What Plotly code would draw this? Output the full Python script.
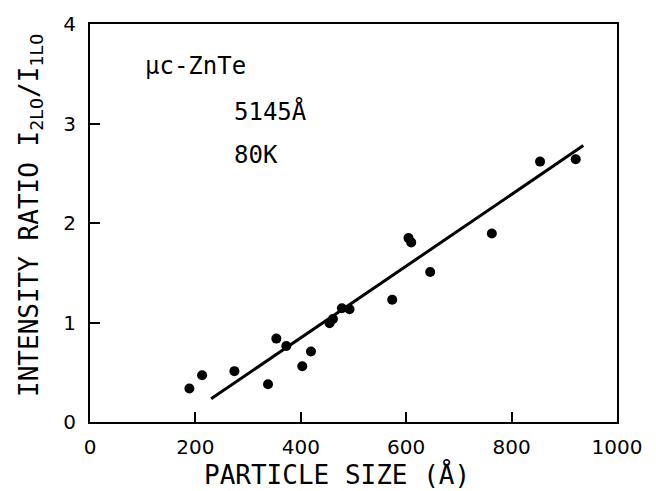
import plotly.graph_objects as go

# Data
particle_size = [188.6, 212.7, 274.0, 337.8, 353.6, 372.5, 402.8, 419.3, 454.6, 461.0,
                 478.0, 492.5, 573.5, 604.4, 609.5, 645.5, 762.5, 854.0, 921.7]
intensity_ratio = [0.337, 0.469, 0.511, 0.380, 0.838, 0.764, 0.560, 0.708, 0.993, 1.035,
                   1.143, 1.133, 1.229, 1.848, 1.805, 1.507, 1.894, 2.617, 2.641]
fit_x = [229.8, 936.1]
fit_y = [0.233, 2.778]

x_ticks = [0, 200, 400, 600, 800, 1000]
y_ticks = [0, 1, 2, 3, 4]

tick_font = dict(family="DejaVu Sans", size=20, color="black")
title_font = dict(family="DejaVu Sans Mono", size=26, color="black")
note_font = dict(family="DejaVu Sans Mono", size=24, color="black")

fig = go.Figure()
fig.add_trace(go.Scatter(x=fit_x, y=fit_y, mode="lines",
                         line=dict(color="black", width=3), showlegend=False))
fig.add_trace(go.Scatter(x=particle_size, y=intensity_ratio, mode="markers",
                         marker=dict(color="black", size=10), showlegend=False))

fig.update_layout(
    width=656, height=491,
    margin=dict(l=90, r=39, t=15, b=69),
    paper_bgcolor="white", plot_bgcolor="white",
    xaxis=dict(range=[0, 1000], tickvals=x_ticks, ticks="inside", ticklen=10,
               tickwidth=1.5, tickcolor="black", showline=True, linecolor="black",
               linewidth=2, mirror=True, showgrid=False, zeroline=False,
               tickfont=tick_font, ticklabelstandoff=6),
    yaxis=dict(range=[0, 4], tickvals=y_ticks, ticks="inside", ticklen=10,
               tickwidth=1.5, tickcolor="black", showline=True, linecolor="black",
               linewidth=2, mirror=True, showgrid=False, zeroline=False,
               tickfont=tick_font, ticklabelstandoff=8),
    annotations=[
        dict(text="PARTICLE SIZE (Å)", xref="paper", yref="paper", x=0.469, y=-0.133,
             xanchor="center", yanchor="middle", showarrow=False, font=title_font),
        dict(text="INTENSITY RATIO I<sub>2LO</sub>/I<sub>1LO</sub>", xref="paper", yref="paper",
             x=-0.114, y=0.52, xanchor="center", yanchor="middle", textangle=-90,
             showarrow=False, font=title_font),
        dict(text="μc-ZnTe", x=101.4, y=3.58, xanchor="left", yanchor="middle",
             showarrow=False, font=note_font),
        dict(text="5145Å", x=270, y=3.12, xanchor="left", yanchor="middle",
             showarrow=False, font=note_font),
        dict(text="80K", x=270, y=2.68, xanchor="left", yanchor="middle",
             showarrow=False, font=note_font),
    ],
)

fig.write_html("out.html")
